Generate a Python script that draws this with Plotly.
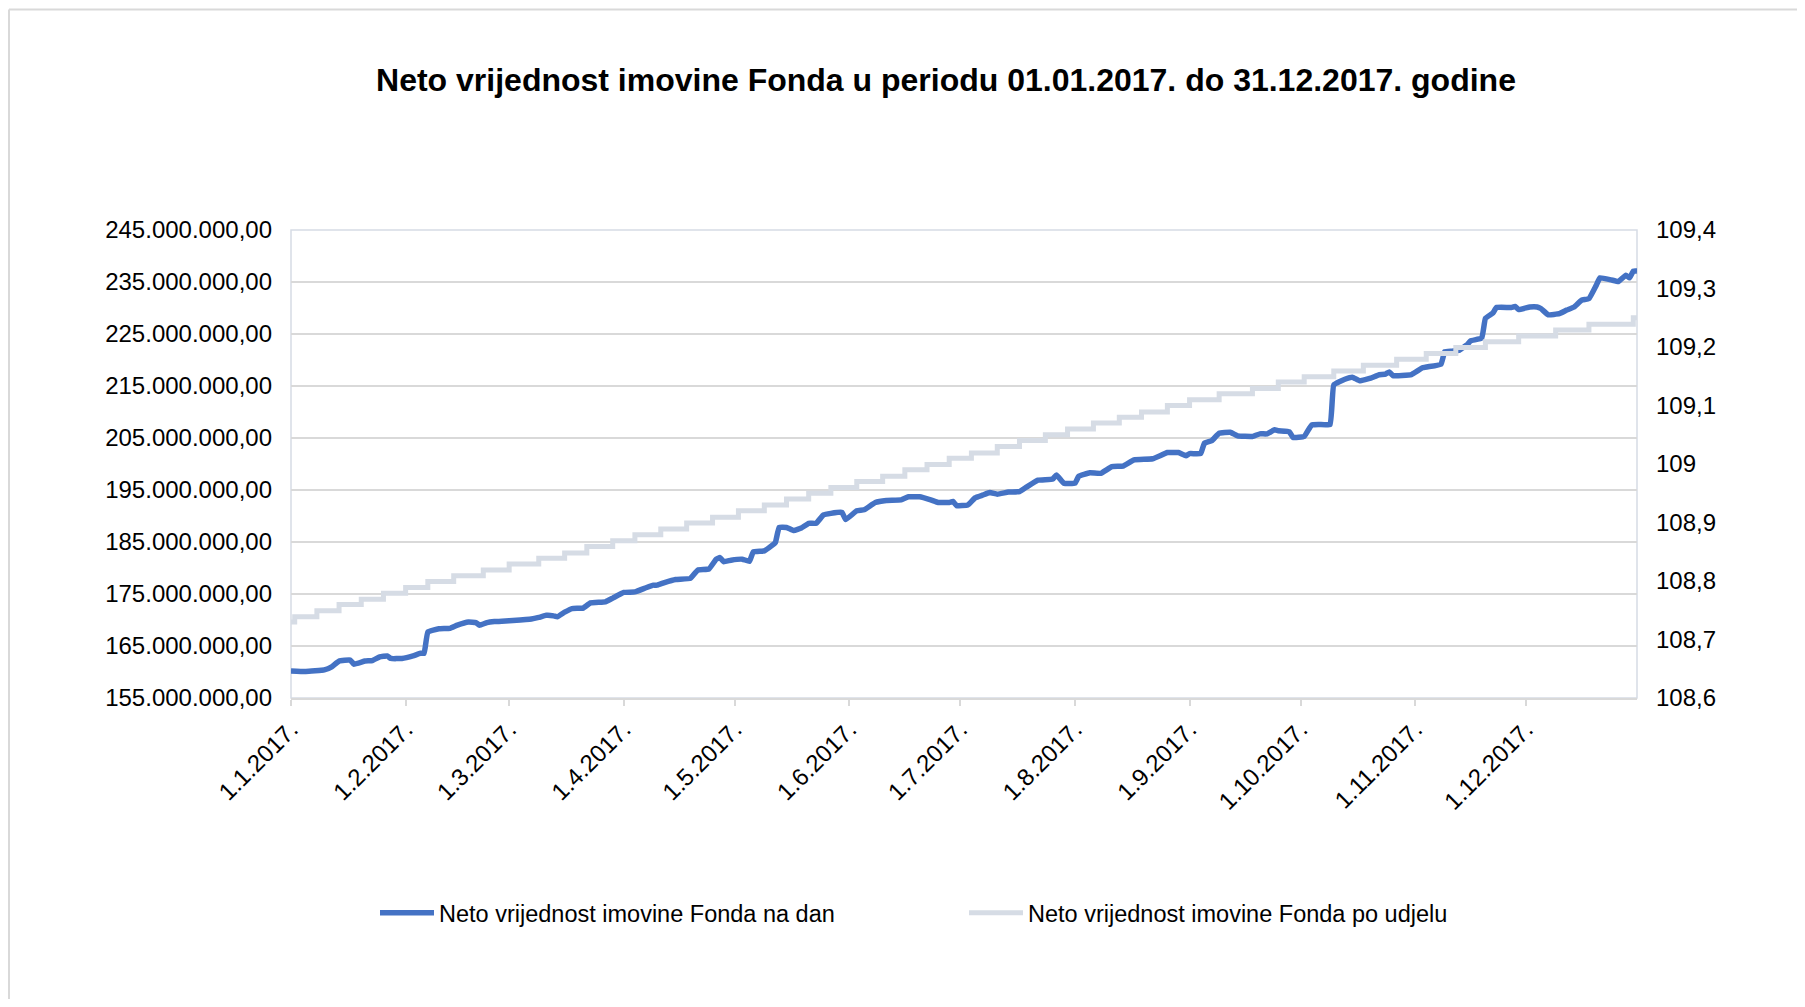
import plotly.graph_objects as go

# ---- Data ----
nav_dates = [
    "2017-01-01", "2017-01-05", "2017-01-10", "2017-01-12", "2017-01-14", "2017-01-17", "2017-01-18",
    "2017-01-21", "2017-01-23", "2017-01-25", "2017-01-27", "2017-01-28", "2017-01-31", "2017-02-03",
    "2017-02-05", "2017-02-06", "2017-02-07", "2017-02-10", "2017-02-13", "2017-02-15", "2017-02-18",
    "2017-02-20", "2017-02-21", "2017-02-23", "2017-02-25", "2017-02-28", "2017-03-02", "2017-03-07",
    "2017-03-09", "2017-03-11", "2017-03-13", "2017-03-14", "2017-03-16", "2017-03-18", "2017-03-21",
    "2017-03-23", "2017-03-27", "2017-03-29", "2017-04-01", "2017-04-04", "2017-04-07", "2017-04-09",
    "2017-04-10", "2017-04-12", "2017-04-15", "2017-04-19", "2017-04-21", "2017-04-24", "2017-04-26",
    "2017-04-27", "2017-04-28", "2017-04-30", "2017-05-03", "2017-05-05", "2017-05-06", "2017-05-09",
    "2017-05-11", "2017-05-12", "2017-05-13", "2017-05-15", "2017-05-17", "2017-05-19", "2017-05-21",
    "2017-05-23", "2017-05-25", "2017-05-27", "2017-05-30", "2017-05-31", "2017-06-03", "2017-06-05",
    "2017-06-08", "2017-06-11", "2017-06-15", "2017-06-17", "2017-06-20", "2017-06-23", "2017-06-25",
    "2017-06-28", "2017-06-29", "2017-06-30", "2017-07-03", "2017-07-05", "2017-07-07", "2017-07-09",
    "2017-07-11", "2017-07-14", "2017-07-17", "2017-07-19", "2017-07-22", "2017-07-26", "2017-07-27",
    "2017-07-29", "2017-08-01", "2017-08-02", "2017-08-05", "2017-08-08", "2017-08-11", "2017-08-14",
    "2017-08-17", "2017-08-22", "2017-08-26", "2017-08-29", "2017-08-31", "2017-09-01", "2017-09-04",
    "2017-09-05", "2017-09-07", "2017-09-09", "2017-09-12", "2017-09-14", "2017-09-18", "2017-09-20",
    "2017-09-22", "2017-09-24", "2017-09-25", "2017-09-28", "2017-09-29", "2017-10-02", "2017-10-04",
    "2017-10-06", "2017-10-09", "2017-10-10", "2017-10-13", "2017-10-15", "2017-10-17", "2017-10-20",
    "2017-10-22", "2017-10-24", "2017-10-25", "2017-10-26", "2017-10-31", "2017-11-03", "2017-11-08",
    "2017-11-09", "2017-11-11", "2017-11-13", "2017-11-15", "2017-11-16", "2017-11-19", "2017-11-20",
    "2017-11-22", "2017-11-23", "2017-11-27", "2017-11-28", "2017-11-29", "2017-12-02", "2017-12-04",
    "2017-12-05", "2017-12-07", "2017-12-10", "2017-12-12", "2017-12-14", "2017-12-16", "2017-12-18",
    "2017-12-20", "2017-12-21", "2017-12-24", "2017-12-26", "2017-12-28", "2017-12-29", "2017-12-30",
    "2017-12-31",
]
nav_values = [
    160.2e6, 160.1e6, 160.4e6, 161.0e6, 162.1e6, 162.3e6, 161.5e6,
    162.1e6, 162.2e6, 162.9e6, 163.1e6, 162.6e6, 162.6e6, 163.1e6,
    163.6e6, 163.6e6, 167.7e6, 168.3e6, 168.4e6, 169.0e6, 169.6e6,
    169.5e6, 169.0e6, 169.5e6, 169.7e6, 169.8e6, 169.9e6, 170.2e6,
    170.5e6, 170.9e6, 170.8e6, 170.6e6, 171.5e6, 172.2e6, 172.3e6,
    173.3e6, 173.5e6, 174.2e6, 175.3e6, 175.4e6, 176.2e6, 176.7e6,
    176.7e6, 177.2e6, 177.8e6, 178.0e6, 179.6e6, 179.8e6, 181.7e6,
    182.0e6, 181.2e6, 181.5e6, 181.7e6, 181.3e6, 183.1e6, 183.3e6,
    184.3e6, 184.9e6, 187.8e6, 187.8e6, 187.2e6, 187.7e6, 188.6e6,
    188.6e6, 190.2e6, 190.5e6, 190.7e6, 189.3e6, 191.0e6, 191.2e6,
    192.6e6, 193.0e6, 193.1e6, 193.7e6, 193.7e6, 193.1e6, 192.6e6,
    192.6e6, 192.8e6, 192.0e6, 192.1e6, 193.5e6, 194.0e6, 194.5e6,
    194.2e6, 194.6e6, 194.7e6, 195.6e6, 196.9e6, 197.1e6, 197.9e6,
    196.3e6, 196.3e6, 197.6e6, 198.3e6, 198.2e6, 199.5e6, 199.6e6,
    200.8e6, 201.0e6, 202.2e6, 202.2e6, 201.6e6, 202.0e6, 202.0e6,
    204.0e6, 204.5e6, 205.9e6, 206.1e6, 205.4e6, 205.3e6, 205.8e6,
    205.8e6, 206.6e6, 206.4e6, 206.2e6, 205.1e6, 205.3e6, 207.5e6,
    207.6e6, 207.6e6, 215.2e6, 216.3e6, 216.7e6, 216.0e6, 216.5e6,
    217.1e6, 217.3e6, 217.7e6, 217.0e6, 217.2e6, 218.5e6, 219.2e6,
    221.6e6, 221.7e6, 221.9e6, 222.9e6, 223.7e6, 224.2e6, 228.0e6,
    229.0e6, 230.1e6, 230.1e6, 230.3e6, 229.7e6, 230.2e6, 230.2e6,
    229.9e6, 228.7e6, 228.9e6, 229.6e6, 230.2e6, 231.5e6, 231.8e6,
    234.4e6, 235.8e6, 235.4e6, 235.1e6, 236.3e6, 235.8e6, 237.1e6,
    237.1e6,
]

unit_dates = [
    "2017-01-01", "2017-01-02", "2017-01-08", "2017-01-14", "2017-01-20", "2017-01-26", "2017-02-01",
    "2017-02-07", "2017-02-14", "2017-02-22", "2017-03-01", "2017-03-09", "2017-03-16", "2017-03-22",
    "2017-03-29", "2017-04-04", "2017-04-11", "2017-04-18", "2017-04-25", "2017-05-02", "2017-05-09",
    "2017-05-15", "2017-05-21", "2017-05-27", "2017-06-03", "2017-06-10", "2017-06-16", "2017-06-22",
    "2017-06-28", "2017-07-04", "2017-07-11", "2017-07-17", "2017-07-24", "2017-07-30", "2017-08-06",
    "2017-08-13", "2017-08-19", "2017-08-26", "2017-09-01", "2017-09-09", "2017-09-18", "2017-09-25",
    "2017-10-02", "2017-10-10", "2017-10-18", "2017-10-27", "2017-11-04", "2017-11-12", "2017-11-20",
    "2017-11-29", "2017-12-09", "2017-12-18", "2017-12-30", "2017-12-31",
]
unit_values = [
    108.730, 108.739, 108.749, 108.760, 108.769, 108.779, 108.789,
    108.799, 108.809, 108.819, 108.829, 108.839, 108.848, 108.859,
    108.869, 108.879, 108.889, 108.899, 108.909, 108.920, 108.930,
    108.940, 108.950, 108.960, 108.970, 108.979, 108.990, 108.999,
    109.010, 109.019, 109.030, 109.040, 109.050, 109.060, 109.070,
    109.080, 109.089, 109.100, 109.110, 109.120, 109.129, 109.140,
    109.149, 109.159, 109.169, 109.179, 109.189, 109.199, 109.209,
    109.219, 109.229, 109.239, 109.250, 109.250,
]

x_tick_vals = [
    "2017-01-01", "2017-02-01", "2017-03-01", "2017-04-01", "2017-05-01", "2017-06-01",
    "2017-07-01", "2017-08-01", "2017-09-01", "2017-10-01", "2017-11-01", "2017-12-01",
]
x_tick_text = [
    "1.1.2017.", "1.2.2017.", "1.3.2017.", "1.4.2017.", "1.5.2017.", "1.6.2017.",
    "1.7.2017.", "1.8.2017.", "1.9.2017.", "1.10.2017.", "1.11.2017.", "1.12.2017.",
]
left_tick_vals = [155e6, 165e6, 175e6, 185e6, 195e6, 205e6, 215e6, 225e6, 235e6, 245e6]
left_tick_text = [
    "155.000.000,00", "165.000.000,00", "175.000.000,00", "185.000.000,00", "195.000.000,00",
    "205.000.000,00", "215.000.000,00", "225.000.000,00", "235.000.000,00", "245.000.000,00",
]
right_tick_vals = [108.6, 108.7, 108.8, 108.9, 109.0, 109.1, 109.2, 109.3, 109.4]
right_tick_text = ["108,6", "108,7", "108,8", "108,9", "109", "109,1", "109,2", "109,3", "109,4"]

series_names = ["Neto vrijednost imovine Fonda na dan", "Neto vrijednost imovine Fonda po udjelu"]
title_text = "Neto vrijednost imovine Fonda u periodu 01.01.2017. do 31.12.2017. godine"

FONT = "Liberation Sans, Arial, sans-serif"
OFF = 8  # the page body has an 8px margin; figure coordinates are page coordinates minus this
W, H = 1805 - 2 * OFF, 1007 - 2 * OFF
# target plot area in page pixels: x 291..1637, y 230..698
L, T = 291 - OFF, 230 - OFF
R, B = W - (1637 - OFF), H - (698 - OFF)
PW, PH = W - L - R, H - T - B


def px_x(px):
    """page pixel x -> paper fraction"""
    return (px - OFF - L) / PW


def px_y(py):
    """page pixel y -> paper fraction"""
    return (H - B - (py - OFF)) / PH


fig = go.Figure()
fig.add_trace(go.Scatter(
    x=nav_dates, y=nav_values, name=series_names[0], mode="lines",
    line=dict(color="#4472C4", width=5.5, shape="spline", smoothing=0.3),
    yaxis="y",
))
fig.add_trace(go.Scatter(
    x=unit_dates, y=unit_values, name=series_names[1], mode="lines",
    line=dict(color="#D6DCE5", width=5, shape="hv"),
    yaxis="y2",
))

fig.update_layout(
    width=W, height=H,
    margin=dict(l=L, r=R, t=T, b=B, autoexpand=False),
    paper_bgcolor="white", plot_bgcolor="white",
    font=dict(family=FONT, size=24, color="#000000"),
    title=dict(
        text=title_text,
        font=dict(family=FONT, size=32, color="#000000", weight="bold"),
        x=(946 - OFF) / W, xanchor="center", xref="container",
        y=1 - (80 - OFF) / H, yanchor="middle", yref="container",
    ),
    xaxis=dict(
        type="date", range=["2017-01-01", "2017-12-31"],
        tickvals=x_tick_vals, ticktext=x_tick_text, tickangle=-45,
        showgrid=False, showline=True, linecolor="#D9D9D9", linewidth=1.5,
        ticks="outside", ticklen=6, tickcolor="#D9D9D9", tickwidth=1.5,
        tickfont=dict(family=FONT, size=24, color="#000000"),
        zeroline=False, fixedrange=True,
    ),
    yaxis=dict(
        range=[155e6, 245e6], tickvals=left_tick_vals, ticktext=left_tick_text,
        showgrid=True, gridcolor="#D9D9D9", gridwidth=1.5,
        showline=False, zeroline=False, ticks="",
        ticklabelstandoff=18,
        tickfont=dict(family=FONT, size=24, color="#000000"),
    ),
    yaxis2=dict(
        range=[108.6, 109.4], tickvals=right_tick_vals, ticktext=right_tick_text,
        overlaying="y", side="right", showgrid=False, showline=False,
        zeroline=False, ticks="", ticklabelstandoff=18,
        tickfont=dict(family=FONT, size=24, color="#000000"),
    ),
    legend=dict(
        orientation="h", x=px_x(375), xanchor="left", y=px_y(913), yanchor="middle",
        itemwidth=54, entrywidth=520, entrywidthmode="pixels",
        font=dict(family=FONT, size=23.5, color="#000000"),
        bgcolor="rgba(0,0,0,0)", traceorder="normal",
    ),
    showlegend=True,
    shapes=[
        # plot-area border
        dict(type="rect", xref="paper", yref="paper", x0=0, x1=1, y0=0, y1=1,
             line=dict(color="#D6DCE5", width=1.5), layer="below"),
        # outer chart border (top and left edges)
        dict(type="line", xref="paper", yref="paper", x0=px_x(9), x1=px_x(1805 + 20),
             y0=px_y(9.5), y1=px_y(9.5), line=dict(color="#D9D9D9", width=2)),
        dict(type="line", xref="paper", yref="paper", x0=px_x(9), x1=px_x(9),
             y0=px_y(9.5), y1=px_y(1007 + 20), line=dict(color="#D9D9D9", width=2)),
    ],
)

fig.write_html("out.html")
